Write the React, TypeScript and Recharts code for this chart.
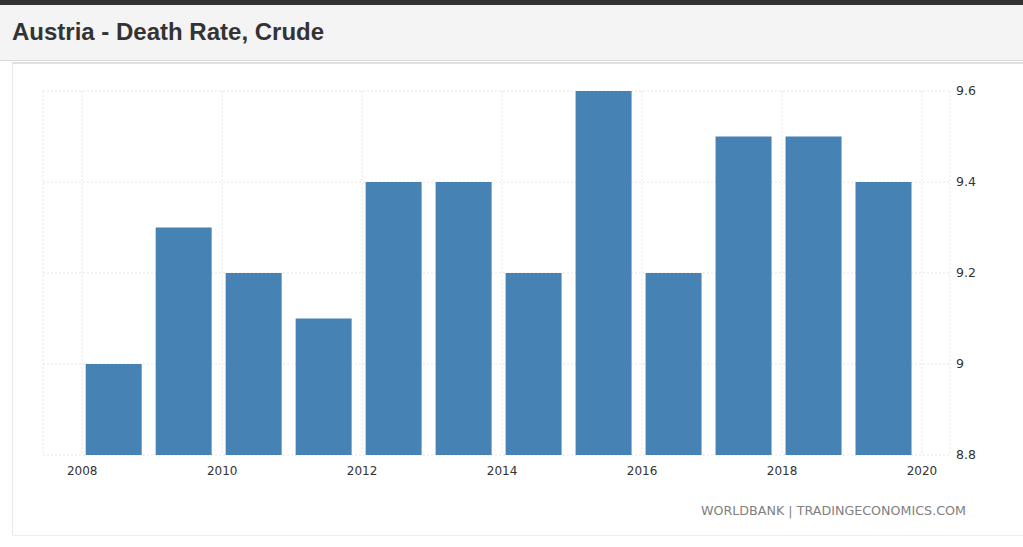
import React from "react";
import { BarChart, Bar, XAxis, YAxis, CartesianGrid } from "recharts";

const years = [2008, 2009, 2010, 2011, 2012, 2013, 2014, 2015, 2016, 2017, 2018, 2019];
const deathRate = [9.0, 9.3, 9.2, 9.1, 9.4, 9.4, 9.2, 9.6, 9.2, 9.5, 9.5, 9.4];
const xTicks = [2008, 2010, 2012, 2014, 2016, 2018, 2020];
const yTicks = [8.8, 9, 9.2, 9.4, 9.6];

// bars sit inside each year's slot, as in the source chart
const data = years.map((y, i) => ({ pos: y + 0.45, value: deathRate[i] }));

export default function App() {
  return (
    <div
      style={{
        position: "absolute",
        left: 0,
        top: 0,
        width: 1023,
        height: 547,
        background: "#ffffff",
        overflow: "hidden",
        fontFamily: "DejaVu Sans, sans-serif",
      }}
    >
      <div style={{ position: "absolute", left: 0, top: 0, width: 1023, height: 5, background: "#333333" }} />
      <div
        style={{
          position: "absolute",
          left: 0,
          top: 5,
          width: 1023,
          height: 55,
          background: "#f4f4f4",
          borderBottom: "1px solid #d8d8d8",
        }}
      />
      <div
        style={{
          position: "absolute",
          left: 12,
          top: 16,
          fontFamily: "Liberation Sans, Arial, sans-serif",
          fontWeight: "bold",
          fontSize: 24,
          color: "#333333",
          lineHeight: "32px",
        }}
      >
        Austria - Death Rate, Crude
      </div>
      <div
        style={{
          position: "absolute",
          left: 12,
          top: 62,
          width: 1020,
          height: 474,
          borderLeft: "1px solid #e8e8e8",
          borderTop: "2px solid #e0e0e0",
          borderBottom: "1px solid #eeeeee",
          boxSizing: "border-box",
        }}
      />
      <div style={{ position: "absolute", left: 0, top: 0 }}>
        <BarChart
          width={1023}
          height={547}
          data={data}
          margin={{ top: 91, left: 43, right: 23, bottom: 62 }}
        >
          <CartesianGrid stroke="#e6e6e6" strokeDasharray="2 2" />
          <XAxis
            dataKey="pos"
            type="number"
            domain={[2007.44, 2020.4]}
            ticks={xTicks}
            allowDataOverflow
            height={30}
            axisLine={false}
            tickLine={false}
            tickSize={0}
            tickMargin={11}
            tick={{ fill: "#333333", fontSize: 12, fontFamily: "DejaVu Sans" }}
          />
          <YAxis
            orientation="right"
            type="number"
            domain={[8.8, 9.6]}
            ticks={yTicks}
            width={50}
            axisLine={false}
            tickLine={false}
            tickSize={0}
            tickMargin={6}
            tick={{ fill: "#333333", fontSize: 12.5, fontFamily: "DejaVu Sans" }}
          />
          <Bar dataKey="value" fill="#4682b4" barSize={56} isAnimationActive={false} />
        </BarChart>
      </div>
      <div
        style={{
          position: "absolute",
          right: 1023 - 966,
          top: 503,
          fontSize: 12.7,
          color: "#808080",
          fontFamily: "DejaVu Sans, sans-serif",
          whiteSpace: "nowrap",
        }}
      >
        WORLDBANK | TRADINGECONOMICS.COM
      </div>
    </div>
  );
}
